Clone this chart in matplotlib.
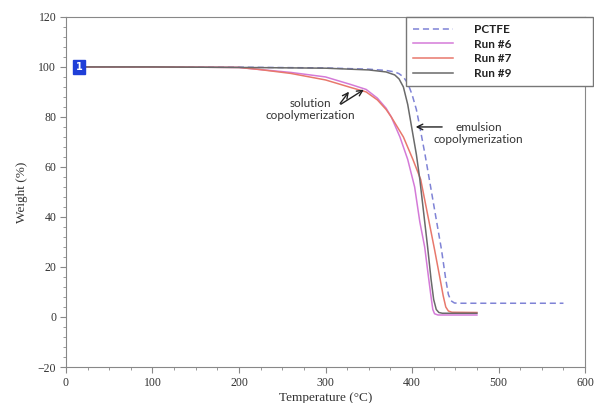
import matplotlib.pyplot as plt
from matplotlib.ticker import MultipleLocator

# TGA curves: temperature (C) and weight (%)
pctfe_t = [15, 100, 200, 300, 350, 370, 380, 385, 390, 395, 400, 405, 409, 415, 420, 427, 434, 439, 442, 445, 449, 455, 575]
pctfe_w = [100, 100, 99.9, 99.6, 99.1, 98.6, 98.0, 97.3, 96.0, 93.5, 89.0, 83.0, 76.0, 65.0, 55.0, 41.0, 27.0, 15.0, 9.0, 6.5, 5.6, 5.5, 5.5]

run6_t = [15, 100, 200, 223, 260, 300, 329, 347, 360, 370, 376, 386, 395, 403, 409, 414.6, 419, 422, 424, 426, 430, 475]
run6_w = [100, 100, 99.8, 99.0, 97.8, 96.0, 93.0, 91.0, 87.5, 83.5, 80.0, 72.0, 63.0, 52.0, 38.0, 28.0, 16.0, 8.0, 3.0, 1.3, 0.8, 0.8]

run7_t = [15, 100, 200, 223, 260, 300, 329, 347, 360, 370, 376, 390, 401, 410, 418, 426, 432, 436, 439, 442, 446, 475]
run7_w = [100, 100, 99.8, 99.0, 97.4, 94.8, 91.8, 90.0, 86.8, 83.0, 80.0, 72.0, 63.0, 55.0, 41.0, 27.0, 16.0, 8.5, 4.0, 2.4, 1.9, 1.8]

run9_t = [15, 100, 200, 300, 350, 370, 380, 385, 390, 395, 399, 405, 409, 418, 422, 425, 428, 431, 435, 475]
run9_w = [100, 100, 99.8, 99.5, 98.8, 98.0, 96.8, 95.2, 92.0, 85.0, 77.0, 65.0, 55.0, 28.0, 15.0, 7.0, 3.0, 1.8, 1.5, 1.5]

serif = 'Liberation Serif'
label_font = ['Lato', 'DejaVu Sans']

fig = plt.figure(figsize=(5.94, 4.03), dpi=100)
ax = fig.add_axes([0.111, 0.0893, 0.874, 0.8687])

ax.plot(pctfe_t, pctfe_w, color='#7f83d6', linestyle=(0, (4, 2.5)), linewidth=1.1, label='PCTFE')
ax.plot(run6_t, run6_w, color='#d47ad8', linewidth=1.1, label='Run #6')
ax.plot(run7_t, run7_w, color='#e8786c', linewidth=1.1, label='Run #7')
ax.plot(run9_t, run9_w, color='#6a6a6a', linewidth=1.1, label='Run #9')

ax.set_xlim(0, 600)
ax.set_ylim(-20, 120)
ax.xaxis.set_major_locator(MultipleLocator(100))
ax.xaxis.set_minor_locator(MultipleLocator(25))
ax.yaxis.set_major_locator(MultipleLocator(20))
ax.yaxis.set_minor_locator(MultipleLocator(4))
ax.tick_params(which='major', direction='out', length=4, color='#888888', labelsize=8.5, pad=3)
ax.tick_params(which='minor', direction='out', length=2, color='#888888')
for lbl in ax.get_xticklabels() + ax.get_yticklabels():
    lbl.set_fontfamily(serif)
    lbl.set_color('#333333')
for sp in ax.spines.values():
    sp.set_color('#888888')

ax.set_xlabel('Temperature (°C)', fontfamily=serif, fontsize=9.5, color='#333333', labelpad=2)
ax.set_ylabel('Weight (%)', fontfamily=serif, fontsize=9.5, color='#333333', labelpad=7)

# little blue marker box "1"
ax.text(15, 100, '1', color='white', fontsize=7, fontweight='bold', ha='center', va='center',
        bbox=dict(boxstyle='square,pad=0.25', facecolor='#1f3fd8', edgecolor='#1f3fd8'))

# annotations
ax.annotate('', xy=(329, 91), xytext=(315, 84.5),
            arrowprops=dict(arrowstyle='->', color='#222222', lw=1))
ax.annotate('', xy=(347, 91.5), xytext=(315, 84.5),
            arrowprops=dict(arrowstyle='->', color='#222222', lw=1))
ax.text(283, 83, 'solution\ncopolymerization', ha='center', va='center', fontsize=8.5,
        family=label_font, color='#333333', linespacing=1.1)

ax.annotate('', xy=(401, 76), xytext=(438, 76),
            arrowprops=dict(arrowstyle='->', color='#222222', lw=1))
ax.text(477, 73.5, 'emulsion\ncopolymerization', ha='center', va='center', fontsize=8.5,
        family=label_font, color='#333333', linespacing=1.1)

leg = ax.legend(loc='upper left', bbox_to_anchor=(0.655, 0.806, 0.36, 0.194), mode='expand',
                borderaxespad=0, fancybox=False, framealpha=1, edgecolor='#777777',
                handlelength=3.4, handletextpad=1.8, labelspacing=0.3, borderpad=0.6,
                prop={'family': label_font, 'weight': 'bold', 'size': 8.5})
leg.get_frame().set_linewidth(1.0)
for t in leg.get_texts():
    t.set_color('#222222')

fig.savefig('out.png', dpi=100)
